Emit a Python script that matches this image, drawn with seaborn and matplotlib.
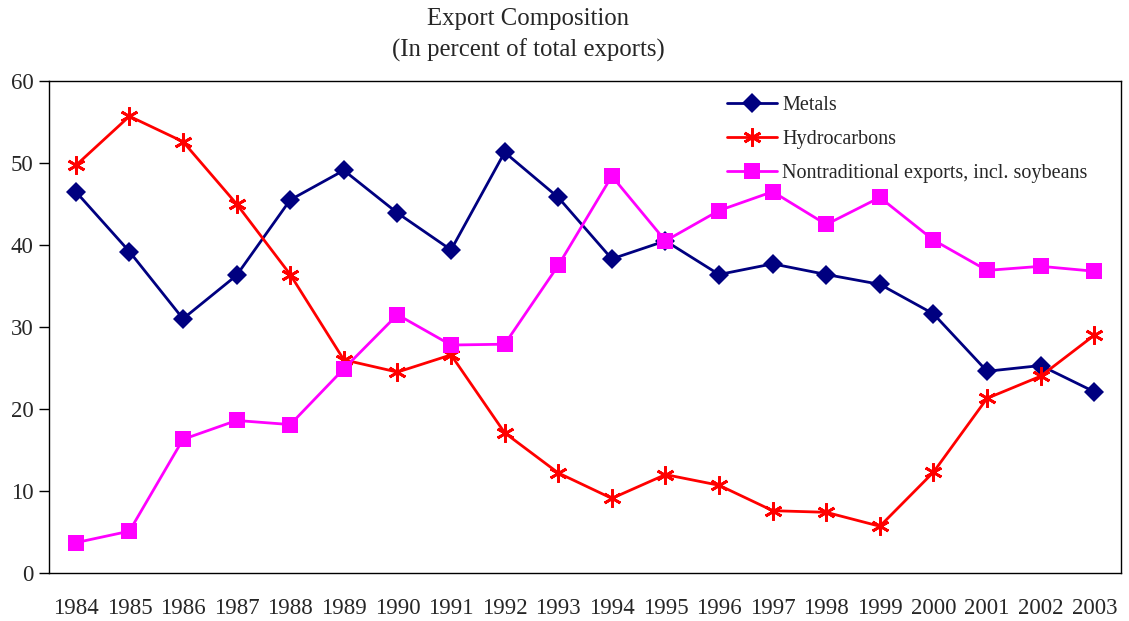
import numpy as np
import pandas as pd
import matplotlib
matplotlib.use("Agg")
import matplotlib.pyplot as plt
import seaborn as sns

years = list(range(1984, 2004))
metals = [46.5, 39.2, 31.0, 36.3, 45.5, 49.1, 43.9, 39.4, 51.3, 45.8,
          38.3, 40.5, 36.4, 37.7, 36.4, 35.2, 31.6, 24.6, 25.3, 22.1]
hydrocarbons = [49.7, 55.7, 52.6, 45.0, 36.4, 26.0, 24.5, 26.6, 17.1, 12.2,
                9.1, 12.0, 10.7, 7.6, 7.4, 5.7, 12.3, 21.3, 24.0, 29.0]
nontraditional = [3.7, 5.1, 16.3, 18.6, 18.1, 24.9, 31.5, 27.8, 27.9, 37.5,
                  48.4, 40.5, 44.2, 46.5, 42.5, 45.8, 40.6, 36.9, 37.4, 36.8]

series_names = ["Metals", "Hydrocarbons", "Nontraditional exports, incl. soybeans"]
y_ticks = [0, 10, 20, 30, 40, 50, 60]

sns.set_style("white")
plt.rcParams["font.family"] = ["Liberation Serif", "DejaVu Serif"]

df = pd.DataFrame({"idx": np.arange(len(years)), "Metals": metals,
                   "Hydrocarbons": hydrocarbons,
                   "Nontraditional exports, incl. soybeans": nontraditional})

fig = plt.figure(figsize=(11.29, 6.21), dpi=100)
ax = fig.add_axes([0.0434, 0.0773, 0.9496, 0.7923])

styles = {
    "Metals": dict(color="#000080", marker="D", markersize=10),
    "Hydrocarbons": dict(color="#ff0000", marker=(6, 2, 0), markersize=13,
                         markeredgewidth=2),
    "Nontraditional exports, incl. soybeans": dict(color="#ff00ff", marker="s",
                                                   markersize=11),
}

for name in series_names:
    st = styles[name]
    sns.lineplot(data=df, x="idx", y=name, ax=ax, label=name, color=st["color"],
                 marker=st["marker"], markersize=st["markersize"],
                 markeredgecolor=st["color"], markerfacecolor=st["color"],
                 markeredgewidth=st.get("markeredgewidth", 0), linewidth=2)

ax.set_xlim(-0.5, len(years) - 0.5)
ax.set_ylim(0, 60)
ax.set_yticks(y_ticks)
ax.set_yticklabels([str(t) for t in y_ticks], fontsize=16.5)
ax.set_xticks(np.arange(-0.5, len(years), 1.0))
ax.set_xticklabels([])
ax.set_xticks(np.arange(len(years)), minor=True)
ax.set_xticklabels([str(y) for y in years], minor=True, fontsize=16.5)
ax.tick_params(axis="x", which="major", direction="out", length=7, width=1, color="black")
ax.tick_params(axis="x", which="minor", length=0, pad=18)
ax.tick_params(axis="y", direction="out", length=7, width=1, color="black", pad=4, left=True)
ax.set_xlabel("")
ax.set_ylabel("")
for sp in ax.spines.values():
    sp.set_color("black")
    sp.set_linewidth(1)

leg = ax.legend(loc="upper left", bbox_to_anchor=(727 / 1129, 1 - 96 / 621),
                bbox_transform=fig.transFigure, frameon=False, borderpad=0,
                borderaxespad=0, fontsize=14.5, handlelength=2.5,
                handletextpad=0.25, labelspacing=0.74)

fig.text(528 / 1129, 1 - 19 / 621, "Export Composition",
         ha="center", va="center", fontsize=17.8)
fig.text(528 / 1129, 1 - 50 / 621, "(In percent of total exports)",
         ha="center", va="center", fontsize=17.8)

fig.savefig("out.png", dpi=100)
